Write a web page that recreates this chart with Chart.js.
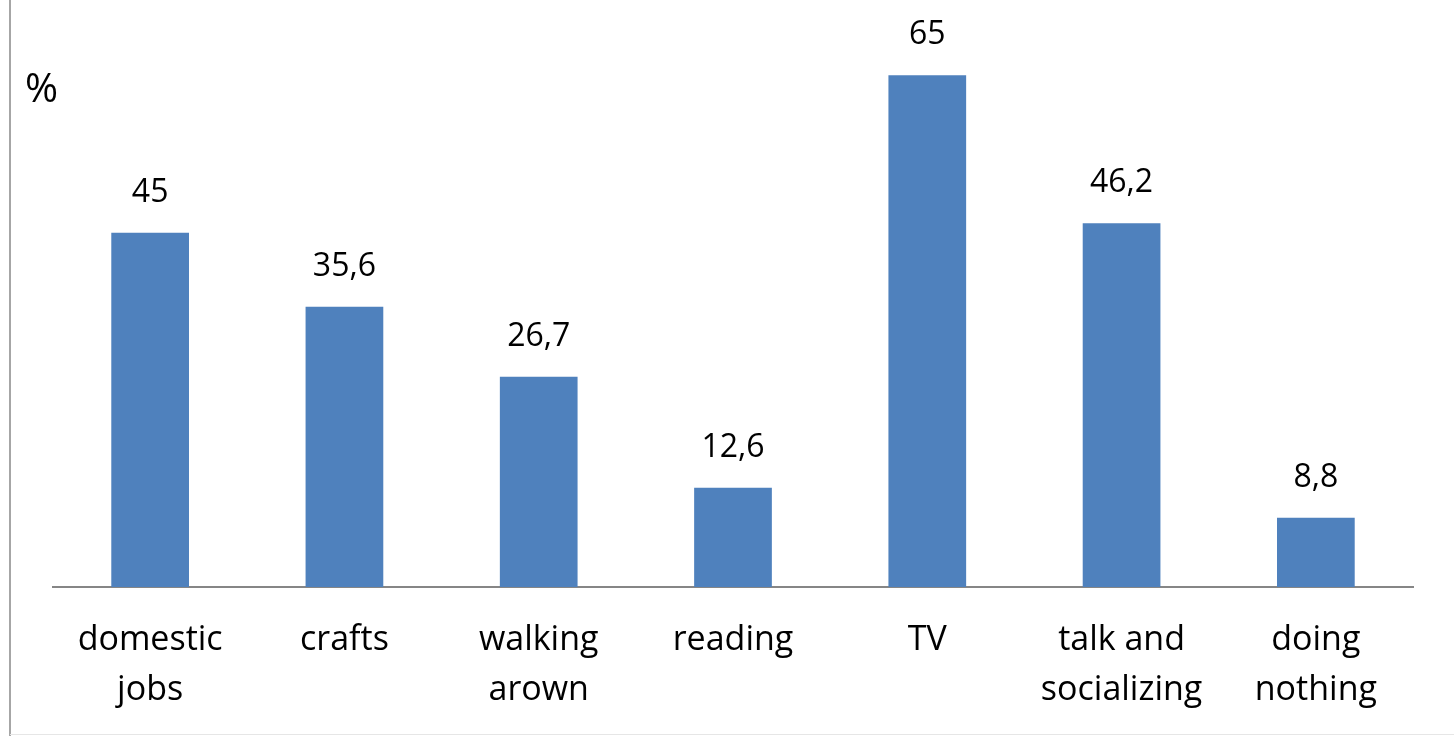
<!DOCTYPE html>
<html><head><meta charset="utf-8">
<script src="https://cdn.jsdelivr.net/npm/chart.js@4"></script>
<style>html,body{margin:0;padding:0;background:#fff}#wrap{width:1454px;height:736px;position:relative}</style>
</head><body><div id="wrap"><canvas id="c" width="1454" height="736"></canvas></div>
<script>
const categories = [["domestic","jobs"],["crafts"],["walking","arown"],["reading"],["TV"],["talk and","socializing"],["doing","nothing"]];
const values = [45, 35.6, 26.7, 12.6, 65, 46.2, 8.8];
const valueLabels = ["45","35,6","26,7","12,6","65","46,2","8,8"];
const unitLabel = "%";
const FONT = "'Open Sans', sans-serif";

const deco = {
  id:'deco',
  afterDatasetsDraw(chart){
    const ctx = chart.ctx;
    const meta = chart.getDatasetMeta(0);
    ctx.save();
    ctx.fillStyle = '#000';
    ctx.font = '32px ' + FONT;
    ctx.textAlign = 'center';
    ctx.textBaseline = 'middle';
    meta.data.forEach((bar,i)=>{ ctx.fillText(valueLabels[i], bar.x, bar.y - 40); });
    ctx.font = '40px ' + FONT;
    ctx.textAlign = 'left';
    ctx.fillText(unitLabel, 25, 91);
    ctx.strokeStyle = '#a6a6a6';
    ctx.lineWidth = 2;
    ctx.beginPath(); ctx.moveTo(10,0); ctx.lineTo(10,736); ctx.stroke();
    ctx.strokeStyle = '#e6e6e6'; ctx.lineWidth = 1;
    ctx.beginPath(); ctx.moveTo(10,734.5); ctx.lineTo(1454,734.5); ctx.stroke();
    ctx.restore();
  }
};

new Chart(document.getElementById('c'), {
  type:'bar',
  data:{ labels:categories, datasets:[{ data:values, backgroundColor:'#4f81bd', categoryPercentage:1, barPercentage:0.4 }]},
  options:{
    responsive:false, animation:false,
    layout:{ padding:{ left:53, right:41, top:36, bottom:0 } },
    plugins:{ legend:{display:false}, tooltip:{enabled:false} },
    scales:{
      y:{ display:false, min:0, max:70 },
      x:{
        grid:{ display:false, drawTicks:false },
        border:{ display:true, color:'#868686', width:2 },
        ticks:{ color:'#000', font:{ family:FONT, size:34, lineHeight:1.47 }, padding:28, maxRotation:0, autoSkip:false },
        afterFit(s){ s.height = 149; }
      }
    }
  },
  plugins:[deco]
});
</script></body></html>
